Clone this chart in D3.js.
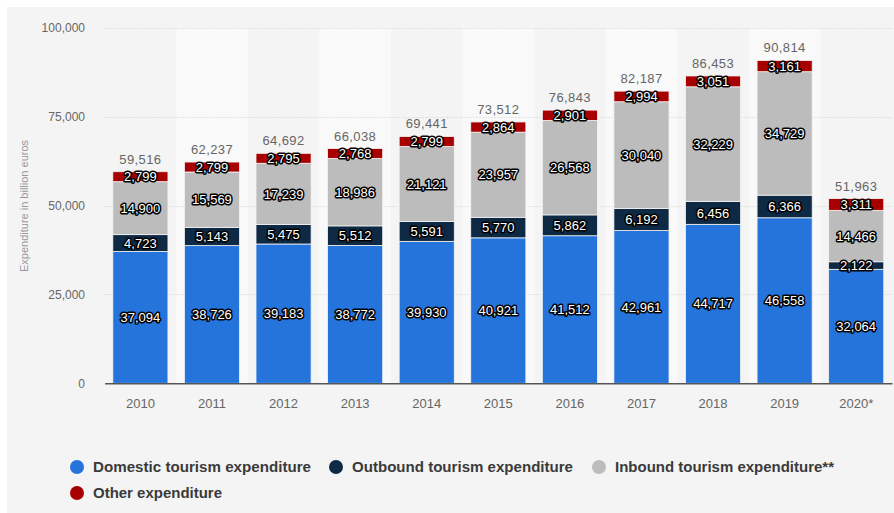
<!DOCTYPE html>
<html>
<head>
<meta charset="utf-8">
<script src="https://cdn.jsdelivr.net/npm/d3@7"></script>
<style>
  html, body { margin: 0; padding: 0; background: #ffffff; }
  svg { display: block; }
  text { font-family: "Liberation Sans", Arial, sans-serif; }
</style>
</head>
<body>
<svg id="chart" width="894" height="513"></svg>
<script>
// Tourism expenditure by type, 2010–2020 (billion euros)
const years = ["2010", "2011", "2012", "2013", "2014", "2015", "2016", "2017", "2018", "2019", "2020*"];
const domestic = [37094, 38726, 39183, 38772, 39930, 40921, 41512, 42961, 44717, 46558, 32064];
const outbound = [4723, 5143, 5475, 5512, 5591, 5770, 5862, 6192, 6456, 6366, 2122];
const inbound  = [14900, 15569, 17239, 18986, 21121, 23957, 26568, 30040, 32229, 34729, 14466];
const other    = [2799, 2799, 2795, 2768, 2799, 2864, 2901, 2994, 3051, 3161, 3311];
const totals   = [59516, 62237, 64692, 66038, 69441, 73512, 76843, 82187, 86453, 90814, 51963];

const seriesKeys   = ["domestic", "outbound", "inbound", "other"];
const seriesLabels = ["Domestic tourism expenditure", "Outbound tourism expenditure",
                      "Inbound tourism expenditure**", "Other expenditure"];
const seriesColors = ["#2474dc", "#0d2943", "#bcbcbc", "#a80000"];
const yTicks = [0, 25000, 50000, 75000, 100000];

const rows = years.map((yr, i) => ({
  year: yr, domestic: domestic[i], outbound: outbound[i], inbound: inbound[i], other: other[i], total: totals[i]
}));

const svg = d3.select("#chart");
const fmt = d3.format(",");

// panel background
svg.append("rect").attr("x", 7).attr("y", 7).attr("width", 887).attr("height", 506).attr("fill", "#f4f4f4");

const x = d3.scaleBand().domain(years).range([104.6, 892]).paddingInner(0).paddingOuter(0);
const y = d3.scaleLinear().domain([0, 100000]).range([383.3, 27.8]);
const barW = x.bandwidth() * 0.77;
const barOff = (x.bandwidth() - barW) / 2;

// alternating column bands
svg.append("g").selectAll("rect")
  .data(years.filter((d, i) => i % 2 === 1))
  .join("rect")
  .attr("x", d => x(d))
  .attr("y", y(100000))
  .attr("width", x.bandwidth())
  .attr("height", y(0) - y(100000))
  .attr("fill", "#f9f9f9");

// horizontal grid lines
svg.append("g").selectAll("line")
  .data(yTicks.filter(t => t > 0))
  .join("line")
  .attr("x1", 104.6).attr("x2", 892)
  .attr("y1", d => Math.round(y(d)) + 0.5).attr("y2", d => Math.round(y(d)) + 0.5)
  .attr("stroke", "#cfcfcf").attr("stroke-width", 1).attr("stroke-dasharray", "1,2");

// y axis labels
const yAxis = d3.axisLeft(y).tickValues(yTicks).tickFormat(fmt).tickSize(0).tickPadding(0);
const yg = svg.append("g").attr("transform", "translate(85,0)").call(yAxis);
yg.select(".domain").remove();
yg.selectAll("text").attr("font-size", 12).attr("fill", "#666").attr("font-family", "Liberation Sans, Arial, sans-serif");

// y axis title
svg.append("text")
  .attr("transform", "translate(28,206) rotate(-90)")
  .attr("text-anchor", "middle")
  .attr("font-size", 11)
  .attr("fill", "#999")
  .text("Expenditure in billion euros");

// stacked bars
const stack = d3.stack().keys(seriesKeys);
const stacked = stack(rows);

const layers = svg.append("g").selectAll("g")
  .data(stacked)
  .join("g")
  .attr("fill", (d, i) => seriesColors[i]);

layers.selectAll("rect")
  .data(d => d)
  .join("rect")
  .attr("x", d => x(d.data.year) + barOff)
  .attr("y", d => y(d[1]))
  .attr("width", barW)
  .attr("height", d => y(d[0]) - y(d[1]))
  .attr("stroke", "#f4f4f4")
  .attr("stroke-width", 0.8);

// x axis
const xAxis = d3.axisBottom(x).tickSize(0).tickPadding(0);
const xg = svg.append("g").attr("transform", `translate(0,${y(0)})`).call(xAxis);
xg.select(".domain").attr("stroke", "#555").attr("stroke-width", 1.5);
xg.selectAll("text").attr("dy", null).attr("y", 25).attr("font-size", 13).attr("fill", "#666")
  .attr("font-family", "Liberation Sans, Arial, sans-serif");

// value labels inside segments
const labelG = svg.append("g");
stacked.forEach(layer => {
  labelG.selectAll(null)
    .data(layer)
    .join("text")
    .attr("x", d => x(d.data.year) + x.bandwidth() / 2)
    .attr("y", d => (y(d[0]) + y(d[1])) / 2)
    .attr("dy", "0.36em")
    .attr("text-anchor", "middle")
    .attr("font-size", 13)
    .attr("fill", "#ffffff")
    .attr("stroke", "#000")
    .attr("stroke-width", 3)
    .attr("stroke-linejoin", "round")
    .attr("paint-order", "stroke")
    .text(d => fmt(d[1] - d[0]));
});

// totals above bars
svg.append("g").selectAll("text")
  .data(rows)
  .join("text")
  .attr("x", d => x(d.year) + x.bandwidth() / 2)
  .attr("y", d => y(d.total) - 8)
  .attr("text-anchor", "middle")
  .attr("font-size", 13)
  .attr("fill", "#666")
  .attr("letter-spacing", 0.4)
  .text(d => fmt(d.total));

// legend
const legendPos = [
  { cx: 77, cy: 467, tx: 93, w: 218 },
  { cx: 336, cy: 467, tx: 352, w: 221 },
  { cx: 599, cy: 467, tx: 615, w: 219 },
  { cx: 77, cy: 493, tx: 93, w: 129 }
];
const legend = svg.append("g").selectAll("g")
  .data(seriesLabels)
  .join("g");
legend.append("circle")
  .attr("cx", (d, i) => legendPos[i].cx)
  .attr("cy", (d, i) => legendPos[i].cy)
  .attr("r", 7)
  .attr("fill", (d, i) => seriesColors[i]);
legend.append("text")
  .attr("x", (d, i) => legendPos[i].tx)
  .attr("y", (d, i) => legendPos[i].cy)
  .attr("dy", "0.36em")
  .attr("font-size", 15)
  .attr("font-weight", "bold")
  .attr("fill", "#3a3a3a")
  .attr("textLength", (d, i) => legendPos[i].w)
  .attr("lengthAdjust", "spacingAndGlyphs")
  .text(d => d);
</script>
</body>
</html>
